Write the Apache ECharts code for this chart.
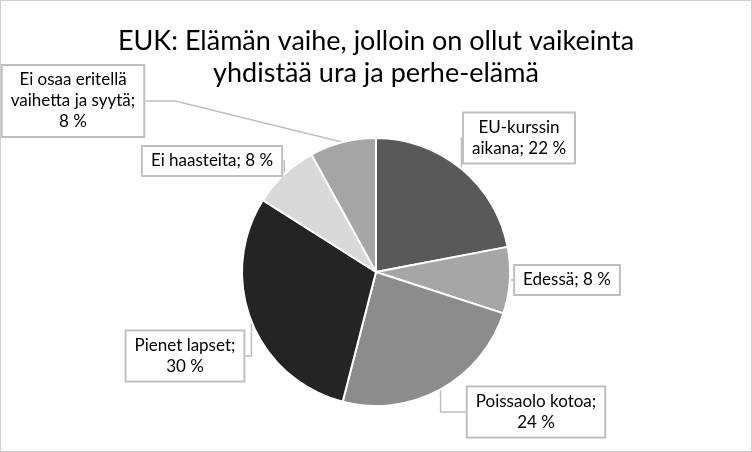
<!DOCTYPE html>
<html>
<head>
<meta charset="utf-8">
<script src="https://cdn.jsdelivr.net/npm/echarts@6/dist/echarts.min.js"></script>
<style>
  html, body { margin: 0; padding: 0; background: #fff; }
  #chart { width: 750px; height: 450px; border: 1px solid #d0d0d0; }
</style>
</head>
<body>
<div id="chart"></div>
<script>
// slice names (with the line breaks used in the labels) and shares in %
const categories = ['EU-kurssin\naikana', 'Edessä', 'Poissaolo kotoa', 'Pienet lapset', 'Ei haasteita', 'Ei osaa eritellä\nvaihetta ja syytä'];
const values = [22, 8, 24, 30, 8, 8];
const valueOnNewLine = [false, false, true, true, false, true];
const sliceColors = ['#595959', '#a6a6a6', '#8c8c8c', '#242424', '#d9d9d9', '#a5a5a5'];

// label box centres
const labelPos = [[518, 137], [566, 279], [535, 411], [184, 355], [211, 160], [72, 100]];

const chart = echarts.init(document.getElementById('chart'));

const option = {
  animation: false,
  title: {
    text: 'EUK: Elämän vaihe, jolloin on ollut vaikeinta\nyhdistää ura ja perhe-elämä',
    left: 'center',
    top: 19,
    textStyle: {
      fontFamily: 'Lato',
      fontSize: 27,
      fontWeight: 'normal',
      color: '#000',
      lineHeight: 32
    }
  },
  series: [
    {
      type: 'pie',
      center: [375, 271],
      radius: 134,
      startAngle: 90,
      clockwise: true,
      data: categories.map((name, i) => ({
        name: name,
        value: values[i],
        itemStyle: { color: sliceColors[i] }
      })),
      itemStyle: { borderColor: '#fff', borderWidth: 2 },
      label: {
        show: true,
        formatter: (p) => p.name + ';' + (valueOnNewLine[p.dataIndex] ? '\n' : ' ') + p.value + ' %',
        fontFamily: 'Lato',
        fontSize: 17,
        lineHeight: 21,
        color: '#000',
        align: 'center',
        backgroundColor: '#fff',
        borderColor: '#bfbfbf',
        borderWidth: 2,
        padding: [4, 8, 3, 8]
      },
      labelLine: {
        show: true,
        lineStyle: { color: '#bfbfbf', width: 1.5 }
      },
      labelLayout: (params) => {
        const p = labelPos[params.dataIndex];
        return { x: p[0], y: p[1], align: 'center', verticalAlign: 'middle' };
      },
      emphasis: { disabled: true }
    }
  ]
};

chart.setOption(option);
</script>
</body>
</html>
